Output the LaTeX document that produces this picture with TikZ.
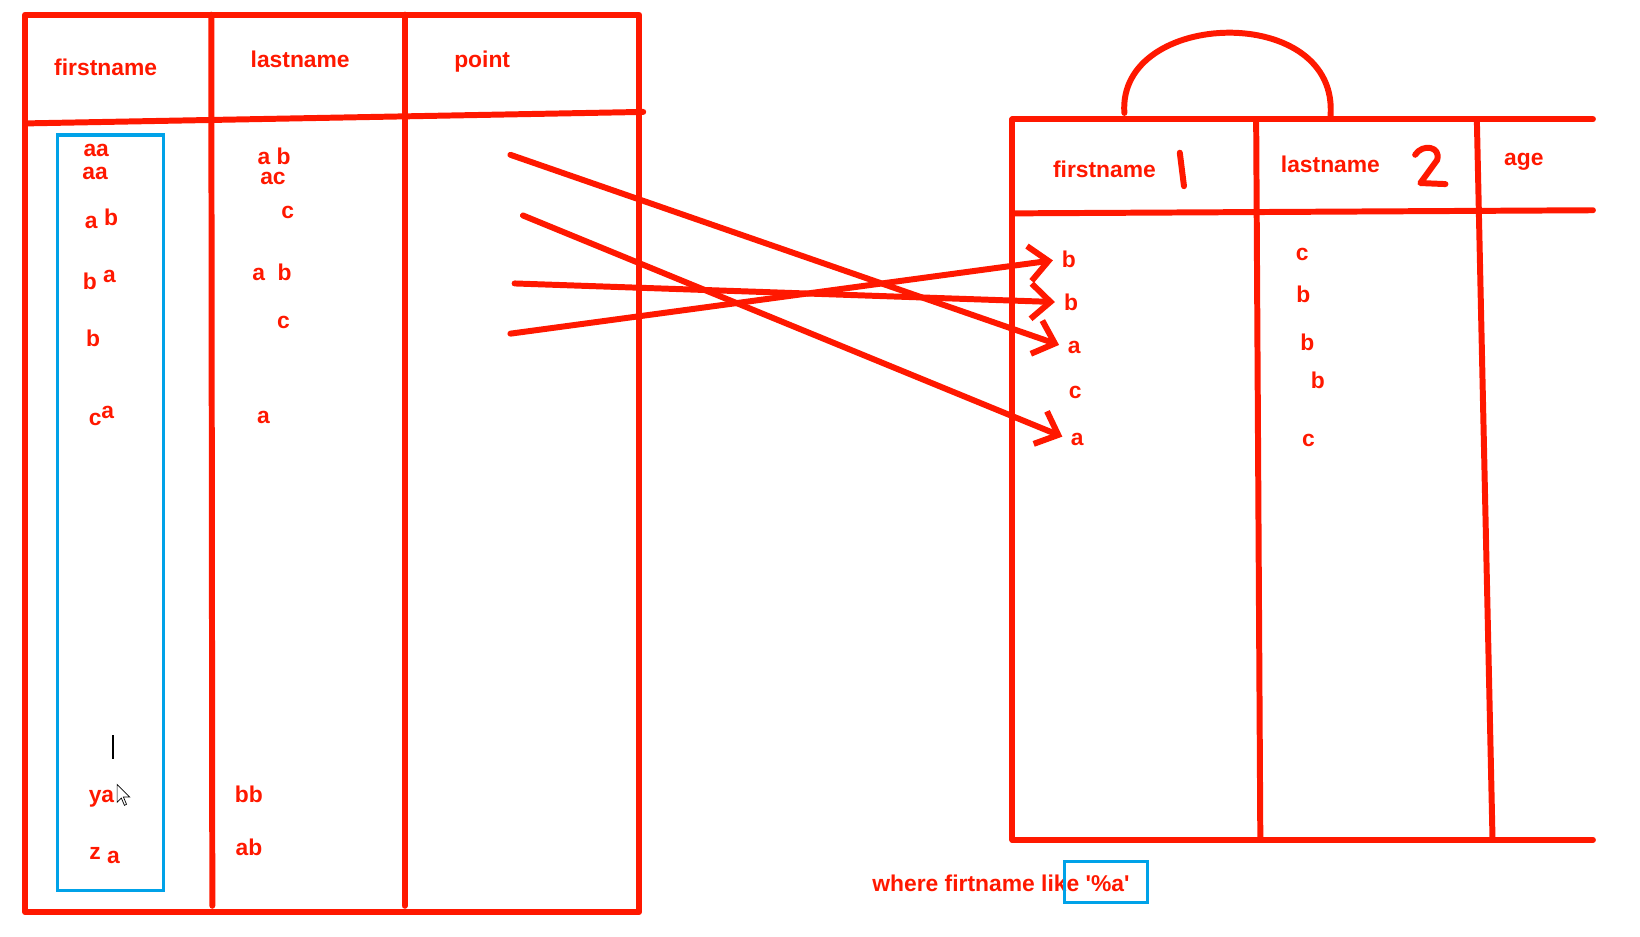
\documentclass[tikz,border=0pt]{standalone}
\usepackage{fontspec}
\setmainfont{Liberation Sans}
\usetikzlibrary{arrows.meta}
\definecolor{penred}{RGB}{255,24,0}
\definecolor{selblue}{RGB}{0,162,232}
\tikzset{
	pen/.style={draw=penred, line width=3.4pt, line cap=round, line join=round},
	val/.style={text=penred, font=\bfseries\fontsize{13}{15}\selectfont, inner sep=1pt},
	hint/.style={pen, -{Straight Barb[length=11pt,width=20pt]}, shorten >=4pt}
}
\begin{document}
\begin{tikzpicture}[x=0.02092cm, y=-0.02092cm]
	\useasboundingbox (0,0) rectangle (1568,895);

	\draw[pen] (24,14) rectangle (611,872);
	\draw[pen] (24,118) -- (615,107);
	\draw[pen] (202,14) -- (203,866);
	\draw[pen] (387,14) -- (387,866);
	\draw[selblue, line width=1.8pt] (55,129) rectangle (156,851);

	\node[val] (lfirst) at (101,64) {firstname};
	\node[val] (llast) at (287,57) {lastname};
	\node[val] (lpoint) at (461,59) {point};

	\node[val] (f1) at (92,144) {aa};
	\node[val] (f2) at (91,166) {aa};
	\node[val] (f3) at (97,209) {a \raisebox{2pt}{b}};
	\node[val] (f4) at (95,268) {b \raisebox{4pt}{a}};
	\node[val] (f5) at (89,323) {b};
	\node[val] (f6) at (97,398) {c\raisebox{4pt}{a}};
	\node[val] (f7) at (97,764) {ya};
	\node[val] (f8) at (100,818) {\raisebox{2pt}{z} a};

	\node[val] (l1) at (262,149) {a b};
	\node[val] (l2) at (261,171) {ac};
	\node[val] (l3) at (275,203) {c};
	\node[val] (l4) at (260,260) {a\ \ b};
	\node[val] (l5) at (271,308) {c};
	\node[val] (l6) at (252,399) {a};
	\node[val] (l7) at (238,759) {bb};
	\node[val] (l8) at (238,810) {ab};

	\draw[black, line width=0.9pt] (108,703) -- (108,726);
	\draw[black, line width=0.4pt, fill=white] (112,750) -- (112,767) -- (116,763) -- (119,770) -- (121,769) -- (118,762) -- (124,762) -- cycle;

	\draw[pen] (968,114) -- (1523,114);
	\draw[pen] (968,114) -- (968,803) -- (1523,803);
	\draw[pen] (968,204) -- (1523,201);
	\draw[pen] (1201,114) -- (1205,803);
	\draw[pen] (1412,114) -- (1427,803);
	\draw[pen] (1075,108) .. controls (1068,8) and (1282,2) .. (1272,112);

	\node[val] (rfirst) at (1056,162) {firstname};
	\node[val] (rlast) at (1272,157) {lastname};
	\node[val] (rage) at (1457,155) {age};
	\draw[pen] (1128,146) -- (1132,178);
	\draw[pen] (1353,148) .. controls (1360,137) and (1378,140) .. (1374,153) -- (1358,175) -- (1382,176);

	\node[val] (r1) at (1022,248) {b};
	\node[val] (r2) at (1024,289) {b};
	\node[val] (r3) at (1027,332) {a};
	\node[val] (r4) at (1028,375) {c};
	\node[val] (r5) at (1030,420) {a};

	\node[val] (s1) at (1245,243) {c};
	\node[val] (s2) at (1246,281) {b};
	\node[val] (s3) at (1250,327) {b};
	\node[val] (s4) at (1260,364) {b};
	\node[val] (s5) at (1251,421) {c};

	\coordinate (p1) at (488,148);
	\coordinate (p2) at (500,206);
	\coordinate (p3) at (492,271);
	\coordinate (p4) at (488,319);
	\draw[hint] (p1) -- (r3.west);
	\draw[hint] (p2) -- (r5.west);
	\draw[hint] (p3) -- (r2.west);
	\draw[hint] (p4) -- (r1.west);

	\node[val] (cond) at (957,845) {where firtname like \textquotesingle\%a\textquotesingle};
	\draw[selblue, line width=1.8pt] (1018,824) rectangle (1097,863);
\end{tikzpicture}
\end{document}
